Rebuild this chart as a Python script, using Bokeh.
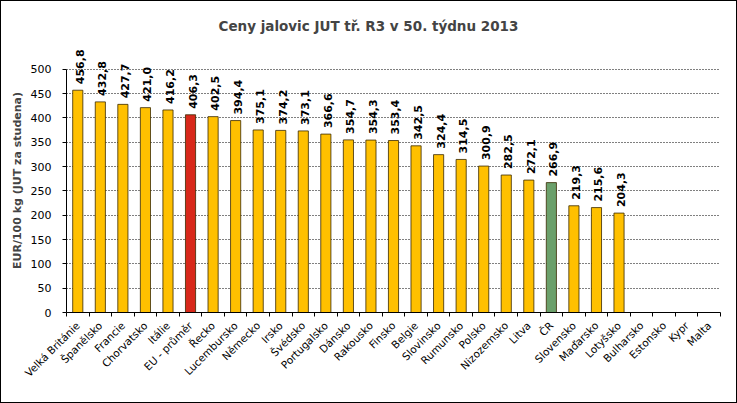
import math
from bokeh.plotting import figure
from bokeh.layouts import column
from bokeh.models import ColumnDataSource, LinearAxis, FixedTicker, Range1d, LabelSet
from bokeh.core.properties import value
from bokeh.embed import file_html
from bokeh.resources import INLINE

countries = ["Velká Británie", "Španělsko", "Francie", "Chorvatsko", "Itálie", "EU - průměr",
             "Řecko", "Lucembursko", "Německo", "Irsko", "Švédsko", "Portugalsko", "Dánsko",
             "Rakousko", "Finsko", "Belgie", "Slovinsko", "Rumunsko", "Polsko", "Nizozemsko",
             "Litva", "ČR", "Slovensko", "Maďarsko", "Lotyšsko", "Bulharsko", "Estonsko",
             "Kypr", "Malta"]
prices = [456.8, 432.8, 427.7, 421.0, 416.2, 406.3, 402.5, 394.4, 375.1, 374.2, 373.1,
          366.6, 354.7, 354.3, 353.4, 342.5, 324.4, 314.5, 300.9, 282.5, 272.1, 266.9,
          219.3, 215.6, 204.3]
y_ticks = [0, 50, 100, 150, 200, 250, 300, 350, 400, 450, 500]

YELLOW = "#FFC000"
RED = "#D8281A"
GREEN = "#6BA06B"

n = len(countries)
xs = [i + 0.5 for i in range(len(prices))]
colors = []
for c in countries[:len(prices)]:
    if c == "EU - průměr":
        colors.append(RED)
    elif c == "ČR":
        colors.append(GREEN)
    else:
        colors.append(YELLOW)
labels = [f"{v:.1f}".replace(".", ",") for v in prices]
src = ColumnDataSource(dict(x=xs, top=prices, color=colors, label=labels))

FONT = "DejaVu Sans"
# headroom above the 500 line so the rotated value labels are not clipped
Y_TOP = 542.5

p = figure(width=735, height=401, output_backend="svg", toolbar_location=None,
           x_range=Range1d(0, n), y_range=Range1d(0, Y_TOP),
           min_border_left=65, min_border_right=16, min_border_top=43, min_border_bottom=90,
           title="Ceny jalovic JUT  tř. R3  v 50. týdnu 2013")
p.title.align = "left"
p.title.text_font = FONT
p.title.text_font_size = "13.5px"
p.title.text_font_style = "bold"
p.title.offset = 152
p.title.standoff = 29
p.outline_line_color = None
p.background_fill_color = "white"
p.border_fill_color = "white"

p.vbar(x="x", top="top", width=0.45, bottom=0, source=src, fill_color="color",
       line_color="#3a2a00", line_width=0.8)
vl = LabelSet(x="x", y="top", text="label", source=src, angle=math.pi / 2,
              text_align="left", text_baseline="middle", x_offset=2, y_offset=6,
              text_font=value(FONT), text_font_size="11px", text_font_style="bold",
              text_color="black")
p.add_layout(vl)

# grid
p.xgrid.grid_line_color = None
p.ygrid.ticker = FixedTicker(ticks=y_ticks[1:])
p.ygrid.grid_line_color = "black"
p.ygrid.grid_line_dash = "1 2"
p.ygrid.grid_line_width = 1

# y axis
ya = p.yaxis[0]
ya.ticker = FixedTicker(ticks=y_ticks)
ya.bounds = (0, 500)
ya.axis_label = "EUR/100 kg (JUT za studena)"
ya.axis_label_text_font = FONT
ya.axis_label_text_font_size = "11px"
ya.axis_label_text_font_style = "bold"
ya.axis_label_standoff = 4
ya.major_label_text_font = FONT
ya.major_label_text_font_size = "11px"
ya.major_label_text_color = "black"
ya.major_label_standoff = 11
ya.major_tick_out = 4
ya.major_tick_in = 0
ya.minor_tick_line_color = None
ya.axis_line_color = "black"
ya.major_tick_line_color = "black"

# x axis: tick marks at category boundaries, no labels
bticks = list(range(n + 1))
xa = p.xaxis[0]
xa.ticker = FixedTicker(ticks=bticks)
xa.major_label_overrides = {t: "" for t in bticks}
xa.major_label_standoff = 0
xa.major_tick_out = 4
xa.major_tick_in = 0
xa.minor_tick_line_color = None
xa.axis_line_color = "black"
xa.major_tick_line_color = "black"

# x labels axis
la = LinearAxis(ticker=FixedTicker(ticks=[i + 0.5 for i in range(n)]),
                major_label_overrides={i + 0.5: c for i, c in enumerate(countries)})
la.axis_line_color = None
la.major_tick_line_color = None
la.minor_tick_line_color = None
la.major_label_orientation = math.pi / 4
la.major_label_text_font = FONT
la.major_label_text_font_size = "10.5px"
la.major_label_text_color = "black"
la.major_label_standoff = 1
p.add_layout(la, "below")

page = column(p, styles={"border": "1px solid black"})
open("out.html", "w").write(file_html(page, INLINE))
